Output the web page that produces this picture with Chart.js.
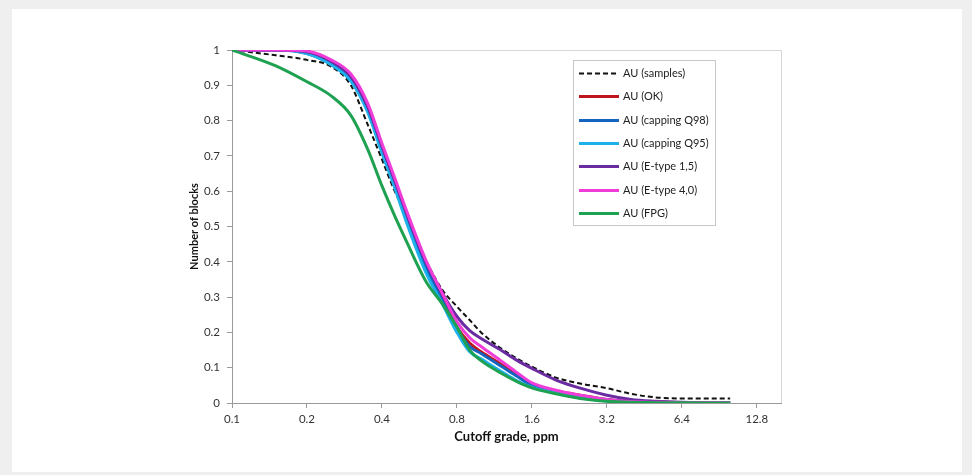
<!DOCTYPE html>
<html>
<head>
<meta charset="utf-8">
<title>Grade-tonnage curves</title>
<script src="https://cdn.jsdelivr.net/npm/chart.js@4.4.0/dist/chart.umd.min.js"></script>
<style>
    html, body { margin: 0; padding: 0; background: #efefef; }
    #panel { position: absolute; left: 12px; top: 9px; width: 950px; height: 463px; background: #fff; }
    canvas { display: block; }
</style>
</head>
<body>
<div id="panel"><canvas id="curveChart" width="950" height="463"></canvas></div>
<script>
// cutoff grades (ppm) where the curves are read
const cutoff = [0.1, 0.15, 0.2, 0.25, 0.3, 0.35, 0.4, 0.45, 0.5, 0.6, 0.7, 0.8, 0.9, 1.0, 1.2, 1.4, 1.6, 2.0, 2.5, 3.2, 4, 5, 6.4, 8, 10];

// proportion of blocks above cutoff
const auSamples = [1.0, 0.985, 0.972, 0.953, 0.9, 0.79, 0.69, 0.6, 0.535, 0.405, 0.32, 0.273, 0.235, 0.2, 0.155, 0.125, 0.103, 0.072, 0.055, 0.042, 0.026, 0.016, 0.013, 0.013, 0.013];
const auOK = [1.0, 1.0, 0.995, 0.968, 0.925, 0.84, 0.727, 0.63, 0.54, 0.395, 0.3, 0.215, 0.17, 0.145, 0.11, 0.078, 0.052, 0.034, 0.022, 0.01, 0.004, 0.002, 0.001, 0.0005, 0.0003];
const auQ98 = [1.0, 1.0, 0.99, 0.96, 0.915, 0.83, 0.715, 0.618, 0.528, 0.385, 0.29, 0.21, 0.16, 0.14, 0.105, 0.075, 0.05, 0.032, 0.02, 0.009, 0.004, 0.002, 0.001, 0.0005, 0.0003];
const auQ95 = [1.0, 1.0, 0.99, 0.958, 0.912, 0.825, 0.708, 0.61, 0.515, 0.37, 0.28, 0.2, 0.145, 0.125, 0.09, 0.062, 0.045, 0.028, 0.015, 0.006, 0.002, 0.001, 0.0005, 0.0003, 0.0002];
const auE15 = [1.0, 1.0, 0.995, 0.968, 0.925, 0.84, 0.727, 0.63, 0.54, 0.4, 0.31, 0.245, 0.205, 0.183, 0.15, 0.12, 0.098, 0.065, 0.042, 0.022, 0.01, 0.005, 0.002, 0.001, 0.0005];
const auE40 = [1.0, 1.0, 0.997, 0.972, 0.932, 0.85, 0.735, 0.638, 0.548, 0.405, 0.31, 0.23, 0.185, 0.16, 0.12, 0.085, 0.057, 0.036, 0.022, 0.01, 0.004, 0.002, 0.001, 0.0005, 0.0003];
const auFPG = [1.0, 0.955, 0.91, 0.87, 0.815, 0.72, 0.615, 0.53, 0.46, 0.345, 0.28, 0.215, 0.15, 0.12, 0.085, 0.06, 0.043, 0.026, 0.013, 0.005, 0.002, 0.001, 0.0005, 0.0003, 0.0002];

const seriesNames = ['AU (samples)', 'AU (OK)', 'AU (capping Q98)', 'AU (capping Q95)', 'AU (E-type 1,5)', 'AU (E-type 4,0)', 'AU (FPG)'];

// axis ticks
const xTicks = [0.1, 0.2, 0.4, 0.8, 1.6, 3.2, 6.4, 12.8];
const xTickLabels = ['0.1', '0.2', '0.4', '0.8', '1.6', '3.2', '6.4', '12.8'];

const FONT = 'Lato, "Liberation Sans", sans-serif';

function toPoints(values) {
    return cutoff.map((x, i) => ({ x: x, y: values[i] }));
}

function makeSeries(i, values, color, width, dash) {
    return {
        label: seriesNames[i],
        data: toPoints(values),
        borderColor: color,
        backgroundColor: color,
        borderWidth: width,
        borderDash: dash || [],
        pointRadius: 0,
        fill: false,
        cubicInterpolationMode: 'monotone',
        order: seriesNames.length - 1 - i // later series on top, like Excel
    };
}

// top and right edge of the plot area
const plotFrame = {
    id: 'plotFrame',
    beforeDatasetsDraw(chart) {
        const { ctx, chartArea } = chart;
        ctx.save();
        ctx.strokeStyle = '#d6d6d6';
        ctx.lineWidth = 1;
        ctx.beginPath();
        ctx.moveTo(chartArea.left, chartArea.top + 0.5);
        ctx.lineTo(chartArea.right + 0.5, chartArea.top + 0.5);
        ctx.lineTo(chartArea.right + 0.5, chartArea.bottom);
        ctx.stroke();
        ctx.restore();
    }
};

// legend box inside the plot area
const legendBox = {
    id: 'legendBox',
    afterDraw(chart) {
        const { ctx, chartArea } = chart;
        const x = chartArea.left + 341, y = chartArea.top + 10, w = 142, h = 165;
        ctx.save();
        ctx.fillStyle = '#fff';
        ctx.fillRect(x, y, w, h);
        ctx.strokeStyle = '#c8c8c8';
        ctx.lineWidth = 1;
        ctx.strokeRect(x + 0.5, y + 0.5, w, h);
        ctx.font = '11px ' + FONT;
        ctx.textBaseline = 'middle';
        chart.data.datasets.forEach((ds, i) => {
            const ly = Math.round(y + 13 + i * 23.3) + 0.5;
            ctx.beginPath();
            ctx.setLineDash(ds.borderDash);
            ctx.lineWidth = ds.borderWidth;
            ctx.strokeStyle = ds.borderColor;
            ctx.moveTo(x + 6, ly);
            ctx.lineTo(x + 46, ly);
            ctx.stroke();
            ctx.setLineDash([]);
            ctx.fillStyle = '#222';
            ctx.fillText(ds.label, x + 50, ly);
        });
        ctx.restore();
    }
};

new Chart(document.getElementById('curveChart').getContext('2d'), {
    type: 'line',
    data: {
        datasets: [
            makeSeries(0, auSamples, '#111111', 2, [5, 3]),
            makeSeries(1, auOK, '#c0141c', 3),
            makeSeries(2, auQ98, '#1464c0', 3),
            makeSeries(3, auQ95, '#1eb0ea', 3),
            makeSeries(4, auE15, '#6a2ca0', 3),
            makeSeries(5, auE40, '#f03cd8', 3),
            makeSeries(6, auFPG, '#1ea150', 3)
        ]
    },
    options: {
        responsive: false,
        animation: false,
        layout: { padding: { left: 170, right: 181, top: 41, bottom: 19 } },
        plugins: {
            legend: { display: false },
            tooltip: { enabled: false }
        },
        scales: {
            x: {
                type: 'logarithmic',
                min: 0.1,
                max: 16,
                afterBuildTicks: axis => { axis.ticks = xTicks.map(v => ({ value: v })); },
                afterFit: axis => { axis.height = 50; },
                ticks: {
                    autoSkip: false,
                    maxRotation: 0,
                    padding: 4,
                    color: '#333',
                    font: { family: FONT, size: 11.5 },
                    callback: (value, index) => xTickLabels[index]
                },
                grid: { drawOnChartArea: false, tickLength: 5, color: '#9a9a9a' },
                border: { color: '#9a9a9a' },
                title: {
                    display: true,
                    text: 'Cutoff grade, ppm',
                    color: '#111',
                    font: { family: FONT, size: 13, weight: 'bold' },
                    padding: { top: 0, bottom: 8 }
                }
            },
            y: {
                min: 0,
                max: 1,
                afterFit: axis => { axis.width = 50; },
                ticks: {
                    stepSize: 0.1,
                    padding: 7,
                    color: '#333',
                    font: { family: FONT, size: 11.5 },
                    callback: value => String(+value.toFixed(1))
                },
                grid: { drawOnChartArea: false, tickLength: 5, color: '#9a9a9a' },
                border: { color: '#9a9a9a' },
                title: {
                    display: true,
                    text: 'Number of blocks',
                    color: '#111',
                    font: { family: FONT, size: 11, weight: 'bold' },
                    padding: { top: 6, bottom: 0 }
                }
            }
        }
    },
    plugins: [plotFrame, legendBox]
});
</script>
</body>
</html>
